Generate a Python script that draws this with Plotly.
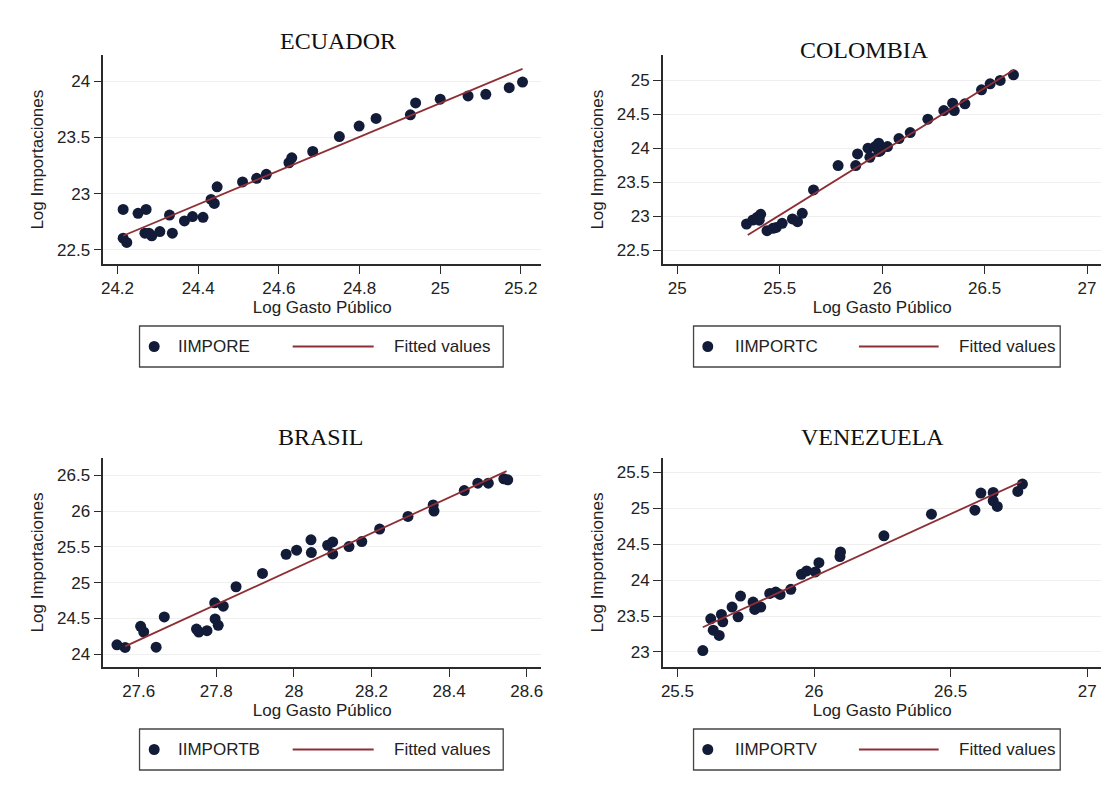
import plotly.graph_objects as go

W, H = 1113, 798

# ---------------- DATA ----------------
countries = ["ECUADOR", "COLOMBIA", "BRASIL", "VENEZUELA"]
series_names = ["IIMPORE", "IIMPORTC", "IIMPORTB", "IIMPORTV"]
fit_name = "Fitted values"
x_title = "Log Gasto Público"
y_title = "Log Importaciones"

ecu_x = [24.214, 24.214, 24.223, 24.251, 24.271, 24.268, 24.285, 24.278, 24.305, 24.329,
         24.336, 24.366, 24.386, 24.412, 24.432, 24.440, 24.447, 24.510, 24.545, 24.569,
         24.625, 24.632, 24.684, 24.750, 24.799, 24.841, 24.926, 24.939, 25.000, 25.069,
         25.113, 25.171, 25.204]
ecu_y = [22.859, 22.603, 22.565, 22.824, 22.859, 22.647, 22.624, 22.647, 22.662, 22.809,
         22.647, 22.756, 22.795, 22.789, 22.948, 22.912, 23.060, 23.104, 23.136, 23.172,
         23.275, 23.319, 23.375, 23.508, 23.602, 23.670, 23.702, 23.808, 23.841, 23.870,
         23.885, 23.944, 23.994]
ecu_fit_x = [24.214, 25.204]
ecu_fit_y = [22.624, 24.112]

col_x = [25.338, 25.369, 25.390, 25.407, 25.400, 25.438, 25.467, 25.483, 25.512, 25.562,
         25.587, 25.610, 25.665, 25.785, 25.871, 25.880, 25.931, 25.940, 25.966, 25.983,
         25.991, 25.983, 26.026, 26.082, 26.137, 26.223, 26.301, 26.344, 26.352, 26.404,
         26.485, 26.527, 26.576, 26.641]
col_y = [22.883, 22.942, 22.981, 23.025, 22.940, 22.785, 22.820, 22.833, 22.893, 22.957,
         22.917, 23.040, 23.384, 23.743, 23.743, 23.914, 23.998, 23.865, 24.023, 24.072,
         23.964, 23.950, 24.023, 24.140, 24.229, 24.425, 24.553, 24.661, 24.553, 24.651,
         24.858, 24.946, 24.995, 25.079]
col_fit_x = [25.344, 26.644]
col_fit_y = [22.721, 25.152]

bra_x = [27.544, 27.565, 27.605, 27.613, 27.645, 27.666, 27.749, 27.755, 27.776, 27.796,
         27.797, 27.805, 27.818, 27.851, 27.919, 27.980, 28.007, 28.044, 28.045, 28.087,
         28.100, 28.100, 28.142, 28.175, 28.221, 28.294, 28.359, 28.361, 28.439, 28.474,
         28.501, 28.541, 28.551]
bra_y = [24.131, 24.094, 24.389, 24.310, 24.098, 24.520, 24.351, 24.310, 24.329, 24.718,
         24.493, 24.403, 24.671, 24.943, 25.130, 25.398, 25.455, 25.600, 25.422, 25.524,
         25.571, 25.403, 25.506, 25.576, 25.750, 25.928, 26.088, 26.003, 26.289, 26.392,
         26.392, 26.453, 26.439]
bra_fit_x = [27.565, 28.548]
bra_fit_y = [24.108, 26.561]

ven_x = [25.593, 25.622, 25.631, 25.653, 25.661, 25.666, 25.700, 25.722, 25.731, 25.777,
         25.783, 25.805, 25.838, 25.860, 25.876, 25.915, 25.954, 25.973, 26.005, 26.018,
         26.095, 26.097, 26.256, 26.430, 26.589, 26.611, 26.656, 26.656, 26.671, 26.746,
         26.763]
ven_y = [23.019, 23.461, 23.303, 23.229, 23.522, 23.419, 23.624, 23.489, 23.778, 23.694,
         23.591, 23.624, 23.815, 23.834, 23.801, 23.871, 24.080, 24.127, 24.113, 24.243,
         24.327, 24.392, 24.616, 24.918, 24.974, 25.211, 25.220, 25.104, 25.025, 25.235,
         25.337]
ven_fit_x = [25.593, 26.759]
ven_fit_y = [23.344, 25.370]

xs = [ecu_x, col_x, bra_x, ven_x]
ys = [ecu_y, col_y, bra_y, ven_y]
fxs = [ecu_fit_x, col_fit_x, bra_fit_x, ven_fit_x]
fys = [ecu_fit_y, col_fit_y, bra_fit_y, ven_fit_y]

x_ranges = [[24.165, 25.25], [24.93, 27.07], [27.509, 28.637], [25.447, 27.052]]
y_ranges = [[22.37, 24.235], [22.29, 25.37], [23.82, 26.745], [22.79, 25.70]]
x_tick0 = [24.2, 25.0, 27.6, 25.5]
x_dtick = [0.2, 0.5, 0.2, 0.5]
y_tick0 = [22.5, 22.5, 24.0, 23.0]
y_dtick = [0.5, 0.5, 0.5, 0.5]

# ---------------- LAYOUT (pixels in the page) ----------------
OFF = 8  # default body margin of the html page


def px_x(p):
    return (p - OFF) / W


def px_y(p):
    return 1 - (p - OFF) / H


# plot-area boxes: left, right, top, bottom (px)
boxes = [(101.7, 541.0, 55.0, 264.3), (663.3, 1103.3, 55.0, 264.3),
         (101.7, 541.0, 458.0, 667.0), (663.3, 1103.3, 458.0, 667.0)]
title_pos = [(337, 41), (866, 50), (320, 437), (874, 437)]
# legend boxes: left, top, width
leg_boxes = [(138, 326, 365), (694, 326, 368), (138, 729, 365), (694, 729, 368)]
leg_offsets = [(14.7, 37, 153.7, 235, 253.7), (14.3, 39.3, 166, 246, 264),
               (14.7, 37, 153.7, 235, 253.7), (14.3, 39.3, 166, 246, 264)]
LEG_H = 41

MARKER_COLOR = "#121b38"
LINE_COLOR = "#8e2f36"
AX_COLOR = "#2b2b2b"
FONT = "Liberation Sans, Arial, sans-serif"
SERIF = "Liberation Serif, Times New Roman, serif"

fig = go.Figure()
layout = dict(width=W, height=H, margin=dict(l=0, r=0, t=0, b=0),
              paper_bgcolor="white", plot_bgcolor="white", showlegend=False,
              font=dict(family=FONT, size=17, color="#222"))

shapes = []
annotations = []

for i in range(4):
    k = "" if i == 0 else str(i + 1)
    xa, ya = "x" + k, "y" + k
    fig.add_trace(go.Scatter(x=xs[i], y=ys[i], mode="markers", name=series_names[i],
                             marker=dict(size=11, color=MARKER_COLOR),
                             xaxis=xa, yaxis=ya))
    fig.add_trace(go.Scatter(x=fxs[i], y=fys[i], mode="lines", name=fit_name,
                             line=dict(color=LINE_COLOR, width=1.8),
                             xaxis=xa, yaxis=ya))
    l, r, t, b = boxes[i]
    layout["xaxis" + k] = dict(domain=[px_x(l), px_x(r)], range=x_ranges[i],
                               anchor=ya, showline=True, linecolor=AX_COLOR, linewidth=1.5,
                               ticks="outside", ticklen=8, tickwidth=1.3, tickcolor=AX_COLOR,
                               tickmode="linear", tick0=x_tick0[i], dtick=x_dtick[i],
                               showgrid=False, zeroline=False,
                               tickfont=dict(family=FONT, size=17, color="#222"),
                               title=dict(text=x_title, standoff=2,
                                          font=dict(family=FONT, size=17, color="#222")))
    layout["yaxis" + k] = dict(domain=[px_y(b), px_y(t)], range=y_ranges[i],
                               anchor=xa, showline=True, linecolor=AX_COLOR, linewidth=1.5,
                               ticks="outside", ticklen=8, tickwidth=1.3, tickcolor=AX_COLOR,
                               tickmode="linear", tick0=y_tick0[i], dtick=y_dtick[i],
                               showgrid=True, gridcolor="#efefef", gridwidth=1,
                               zeroline=False,
                               tickfont=dict(family=FONT, size=17, color="#222"),
                               title=dict(text=y_title, standoff=9,
                                          font=dict(family=FONT, size=17, color="#222")))
    tx, ty = title_pos[i]
    annotations.append(dict(text=countries[i], x=px_x(tx), y=px_y(ty), xref="paper",
                            yref="paper", xanchor="center", yanchor="middle", showarrow=False,
                            font=dict(family=SERIF, size=24, color="#111")))
    # legend (drawn)
    bl, bt, bw = leg_boxes[i]
    mo, to, l0, l1, fo = leg_offsets[i]
    cy = bt + LEG_H / 2
    shapes.append(dict(type="rect", xref="paper", yref="paper",
                       x0=px_x(bl), x1=px_x(bl + bw), y0=px_y(bt + LEG_H), y1=px_y(bt),
                       line=dict(color="#444", width=1.3), fillcolor="white"))
    shapes.append(dict(type="circle", xref="paper", yref="paper",
                       x0=px_x(bl + mo - 5.5), x1=px_x(bl + mo + 5.5),
                       y0=px_y(cy + 5.5), y1=px_y(cy - 5.5),
                       line=dict(color=MARKER_COLOR, width=0), fillcolor=MARKER_COLOR))
    shapes.append(dict(type="line", xref="paper", yref="paper",
                       x0=px_x(bl + l0), x1=px_x(bl + l1), y0=px_y(cy), y1=px_y(cy),
                       line=dict(color=LINE_COLOR, width=1.8)))
    annotations.append(dict(text=series_names[i], x=px_x(bl + to), y=px_y(cy), xref="paper",
                            yref="paper", xanchor="left", yanchor="middle", showarrow=False,
                            font=dict(family=FONT, size=17, color="#222")))
    annotations.append(dict(text=fit_name, x=px_x(bl + fo), y=px_y(cy), xref="paper",
                            yref="paper", xanchor="left", yanchor="middle", showarrow=False,
                            font=dict(family=FONT, size=17, color="#222")))

layout["shapes"] = shapes
layout["annotations"] = annotations
fig.update_layout(**layout)
fig.write_html("out.html")
